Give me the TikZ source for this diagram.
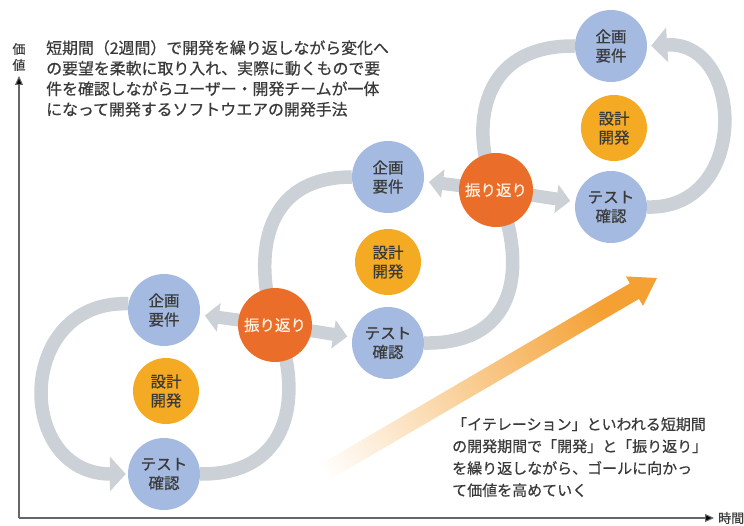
\documentclass[tikz,border=0pt]{standalone}
\usepackage{fontspec}
\setmainfont{Noto Sans CJK JP}[FakeBold=0.6]
\usetikzlibrary{arrows.meta,backgrounds}

\definecolor{planblue}{RGB}{164,186,225}
\definecolor{devorange}{RGB}{244,170,34}
\definecolor{revorange}{RGB}{234,110,42}
\definecolor{bandgray}{RGB}{203,209,214}
\definecolor{goalorange}{RGB}{244,160,50}
\definecolor{txtgray}{RGB}{58,58,58}

\tikzset{
	stage/.style={circle, inner sep=0pt, align=center, text=txtgray,
		font=\fontsize{15.5}{19}\selectfont},
	plannode/.style={stage, fill=planblue, minimum size=72pt},
	devnode/.style={stage, fill=devorange, minimum size=66pt},
	revnode/.style={stage, fill=revorange, minimum size=74pt, text={white!88!orange}},
	band/.style={draw=bandgray, line width=13.5pt},
	backarrow/.style={draw=bandgray, line width=13pt,
		-{Triangle[length=14pt,width=28pt]}, shorten >=5pt},
	axis/.style={draw=black!60, line width=1.1pt, -{Triangle[length=9pt,width=8pt,fill=black]}},
	notetext/.style={align=left, text=txtgray, inner sep=0pt}
}

\begin{document}
\begin{tikzpicture}[x=1pt,y=-1pt]
\useasboundingbox (0,0) rectangle (744,526);

% the three iterations
\node[plannode] (p1) at (164,310) {企画\\要件};
\node[devnode]  (d1) at (166,391) {設計\\開発};
\node[plannode] (t1) at (164,474) {テスト\\確認};

\node[plannode] (p2) at (388,177) {企画\\要件};
\node[devnode]  (d2) at (388,262) {設計\\開発};
\node[plannode] (t2) at (388,343) {テスト\\確認};

\node[plannode] (p3) at (611,46) {企画\\要件};
\node[devnode]  (d3) at (614,128) {設計\\開発};
\node[plannode] (t3) at (611,207) {テスト\\確認};

\node[revnode] (r1) at (275,325) {振り返り};
\node[revnode] (r2) at (496,190) {振り返り};

% axes
\coordinate (o) at (19,518);
\coordinate (ytip) at (19,76);
\coordinate (xtip) at (714,518);
\draw[axis] (o) -- (ytip);
\draw[axis] (o) -- (xtip);
\node[notetext, font=\fontsize{13}{16}\selectfont] (value) at (19,57) {価\\値};
\node[notetext, font=\fontsize{13}{16}\selectfont, anchor=west] (time) at (718,518) {時間};

% texts
\node[notetext, anchor=north west, font=\fontsize{15.9}{20.5}\selectfont] (desc) at (46,40)
	{短期間（2週間）で開発を繰り返しながら変化へ\\
	 の要望を柔軟に取り入れ、実際に動くもので要\\
	 件を確認しながらユーザー・開発チームが一体\\
	 になって開発するソフトウエアの開発手法};
\node[notetext, anchor=north west, font=\fontsize{15}{22}\selectfont] (note) at (452,417)
	{「イテレーション」といわれる短期間\\
	 の開発期間で「開発」と「振り返り」\\
	 を繰り返しながら、ゴールに向かっ\\
	 て価値を高めていく};

\begin{scope}[on background layer]
	% loops
	\draw[band, -{Triangle[length=16pt,width=34pt]}, shorten >=2pt]
		(p1.170) .. controls (15,300) and (15,474) .. (t1.west);
	\draw[band] (t1.east) .. controls (300,475) and (300,380) .. (r1.center)
		.. controls (257,275) and (252,177) .. (p2.west);
	\draw[band] (t2.east) .. controls (525,345) and (525,255) .. (r2.center)
		.. controls (472,140) and (472,45) .. (p3.west);
	\draw[band, -{Triangle[length=16pt,width=34pt]}, shorten >=4pt]
		(t3.east) .. controls (750,210) and (745,40) .. (p3.east);

	\foreach \r/\a/\b in {r1/p1/t2, r2/p2/t3}
	{
		\draw[backarrow] (\r.center) -- (\a);
		\draw[backarrow] (\r.center) -- (\b);
	};

	% goal arrow
	\begin{scope}[shift={(277,500)}, rotate=30.3]
		\shade[left color=white, middle color=goalorange!70, right color=goalorange, shading angle=120]
			(0,-9) -- (414,-9) -- (414,-17) -- (440,0) -- (414,17) -- (414,9) -- (0,9) -- cycle;
	\end{scope}
\end{scope}
\end{tikzpicture}
\end{document}
